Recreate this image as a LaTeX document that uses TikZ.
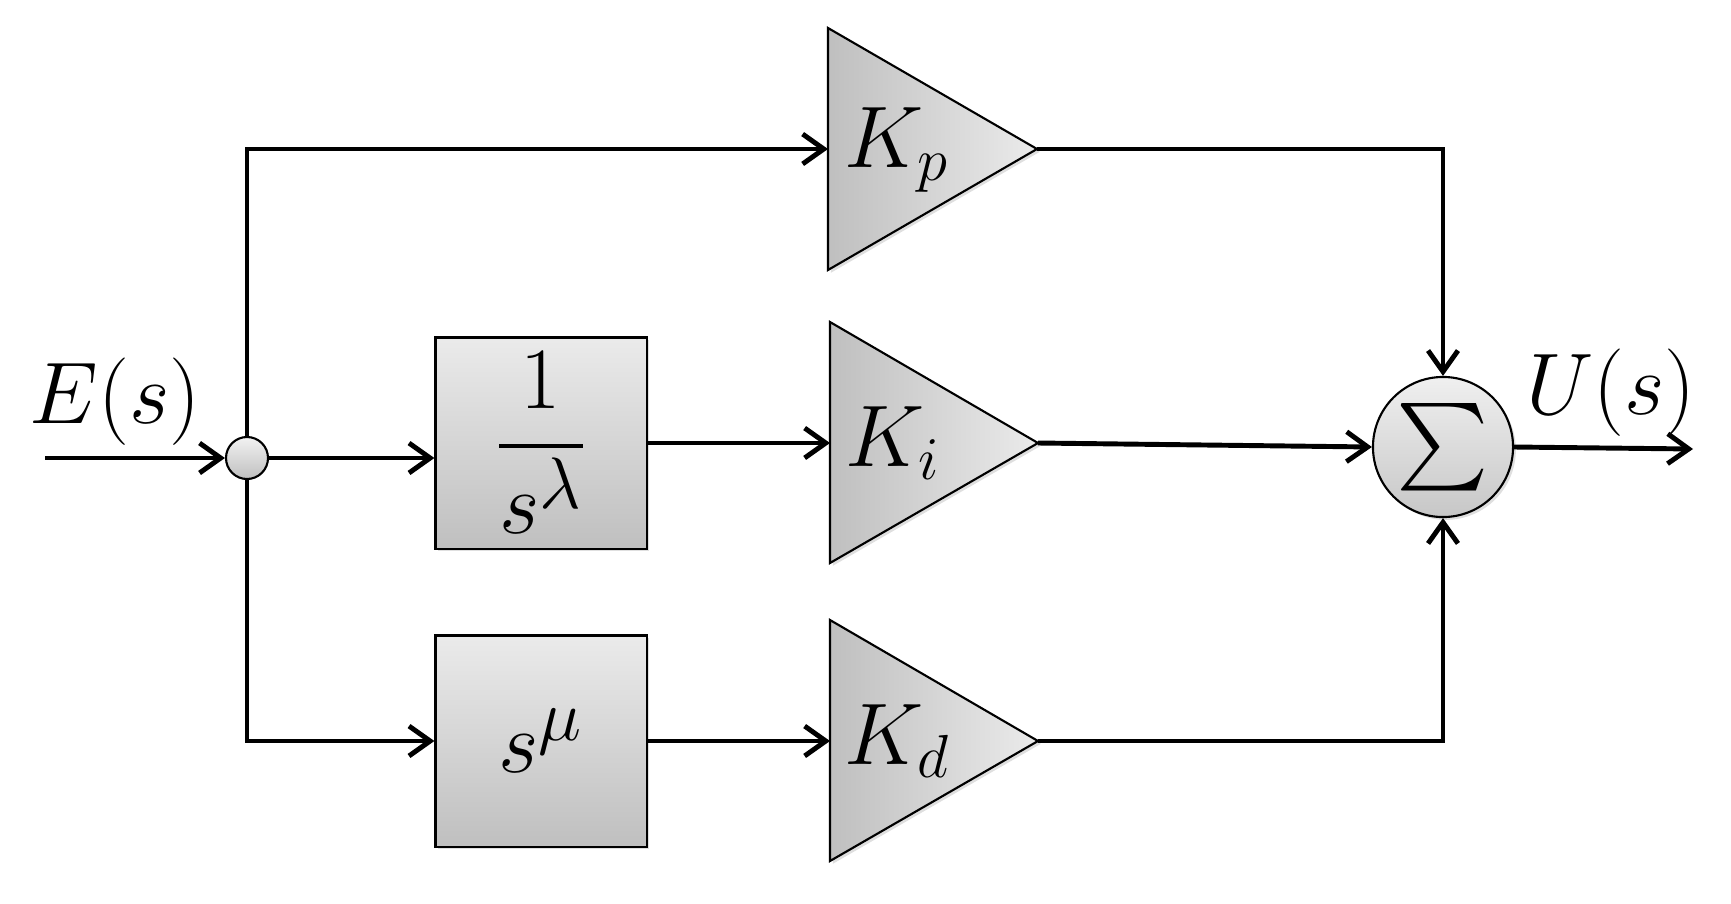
\documentclass[tikz,border=0pt]{standalone}
\usepackage{amsmath}
\usepackage{exscale}
\usetikzlibrary{arrows.meta,shadows,calc}
\begin{document}
\begin{tikzpicture}[x=0.01cm,y=-0.01cm,
  line/.style={line width=1.4pt},
  arr/.style={line, -{Straight Barb[length=6pt,width=8.5pt,line width=1.4pt]}},
  shd/.style={drop shadow={opacity=0.25,shadow xshift=0.8pt,shadow yshift=-0.8pt}},
  tri/.style={draw=black,line width=0.6pt,left color=black!25,right color=black!8,shd},
  blk/.style={draw=black,line width=0.6pt,top color=black!8,bottom color=black!25,
    minimum width=2.11cm,minimum height=2.11cm,inner sep=0pt,shd},
  sumc/.style={circle,draw=black,line width=0.6pt,top color=black!6,bottom color=black!22,
    minimum size=1.4cm,inner sep=0pt,shd},
  brc/.style={circle,draw=black,line width=0.6pt,top color=black!5,bottom color=black!25,
    minimum size=0.42cm,inner sep=0pt},
  big/.style={font=\fontsize{25}{30}\selectfont,inner sep=0pt},
  gain/.style={font=\fontsize{24}{28}\selectfont,inner sep=0pt},
  mid/.style={font=\fontsize{28}{32}\selectfont,inner sep=0pt}]
\useasboundingbox (0,0) rectangle (1731,903);

% gain triangles
\path[tri] (828,28) -- (1037,149) -- (828,270) -- cycle;
\coordinate (kpin) at (828,149); \coordinate (kpout) at (1037,149);
\node[gain] (kp) at (897,150) {$K_p$};

\path[tri] (830,322) -- (1038,443) -- (830,563) -- cycle;
\coordinate (kiin) at (830,443); \coordinate (kiout) at (1038,443);
\node[gain] (ki) at (893,443) {$K_i$};

\path[tri] (830,620) -- (1038,741) -- (830,861) -- cycle;
\coordinate (kdin) at (830,741); \coordinate (kdout) at (1038,741);
\node[gain] (kd) at (897,741) {$K_d$};

% blocks
\node[blk,mid] (b1) at (541,443) {$\displaystyle\frac{1}{s^{\lambda}}$};
\node[blk,mid] (b2) at (541,741) {$s^{\mu}$};

% junctions
\node[brc] (br) at (247,458) {};
\node[sumc,big] (sum) at (1443,447) {$\textstyle\sum$};

% labels
\node[big] (elbl) at (115,402) {$E(s)$};
\node[big] (ulbl) at (1611,393) {$U(s)$};

\coordinate (in) at (45,458);
\coordinate (out) at (1693,449);

% connectors
\draw[arr] (in) -- (br.west);
\draw[arr] (br.north) |- (kpin);
\draw[arr] (br.east) -- (br -| b1.west);
\draw[arr] (br.south) |- (b2.west);
\draw[arr] (b1.east) -- (kiin);
\draw[arr] (b2.east) -- (kdin);
\draw[arr] (kpout) -| (sum.north);
\draw[arr] (kiout) -- (sum.west);
\draw[arr] (kdout) -| (sum.south);
\draw[arr] (sum.east) -- (out);
\end{tikzpicture}
\end{document}
